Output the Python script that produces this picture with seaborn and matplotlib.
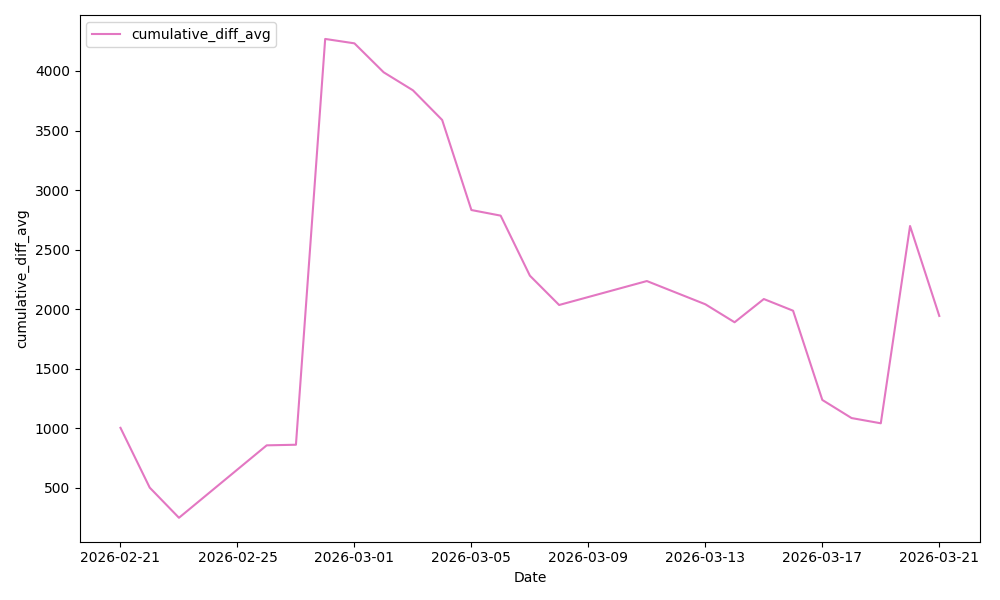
import pandas as pd
import seaborn as sns
import matplotlib
matplotlib.use('Agg')
import matplotlib.pyplot as plt

# Datos
fechas = ['2026-02-21', '2026-02-22', '2026-02-23', '2026-02-26', '2026-02-27',
          '2026-02-28', '2026-03-01', '2026-03-02', '2026-03-03', '2026-03-04',
          '2026-03-05', '2026-03-06', '2026-03-07', '2026-03-08', '2026-03-11',
          '2026-03-13', '2026-03-14', '2026-03-15', '2026-03-16', '2026-03-17',
          '2026-03-18', '2026-03-19', '2026-03-20', '2026-03-21']
valores = [1005, 503, 250, 858, 863,
           4269, 4232, 3989, 3838, 3589,
           2833, 2786, 2282, 2036, 2237,
           2042, 1891, 2086, 1988, 1239,
           1087, 1043, 2699, 1944]

df = pd.DataFrame({'Date': pd.to_datetime(fechas), 'cumulative_diff_avg': valores})

plt.figure(figsize=(10, 6))
sns.lineplot(data=df, x='Date', y='cumulative_diff_avg', color='tab:pink',
             label='cumulative_diff_avg')
plt.xlabel('Date')
plt.ylabel('cumulative_diff_avg')
plt.legend(loc='upper left')
plt.tight_layout()
plt.savefig('out.png', dpi=100)
